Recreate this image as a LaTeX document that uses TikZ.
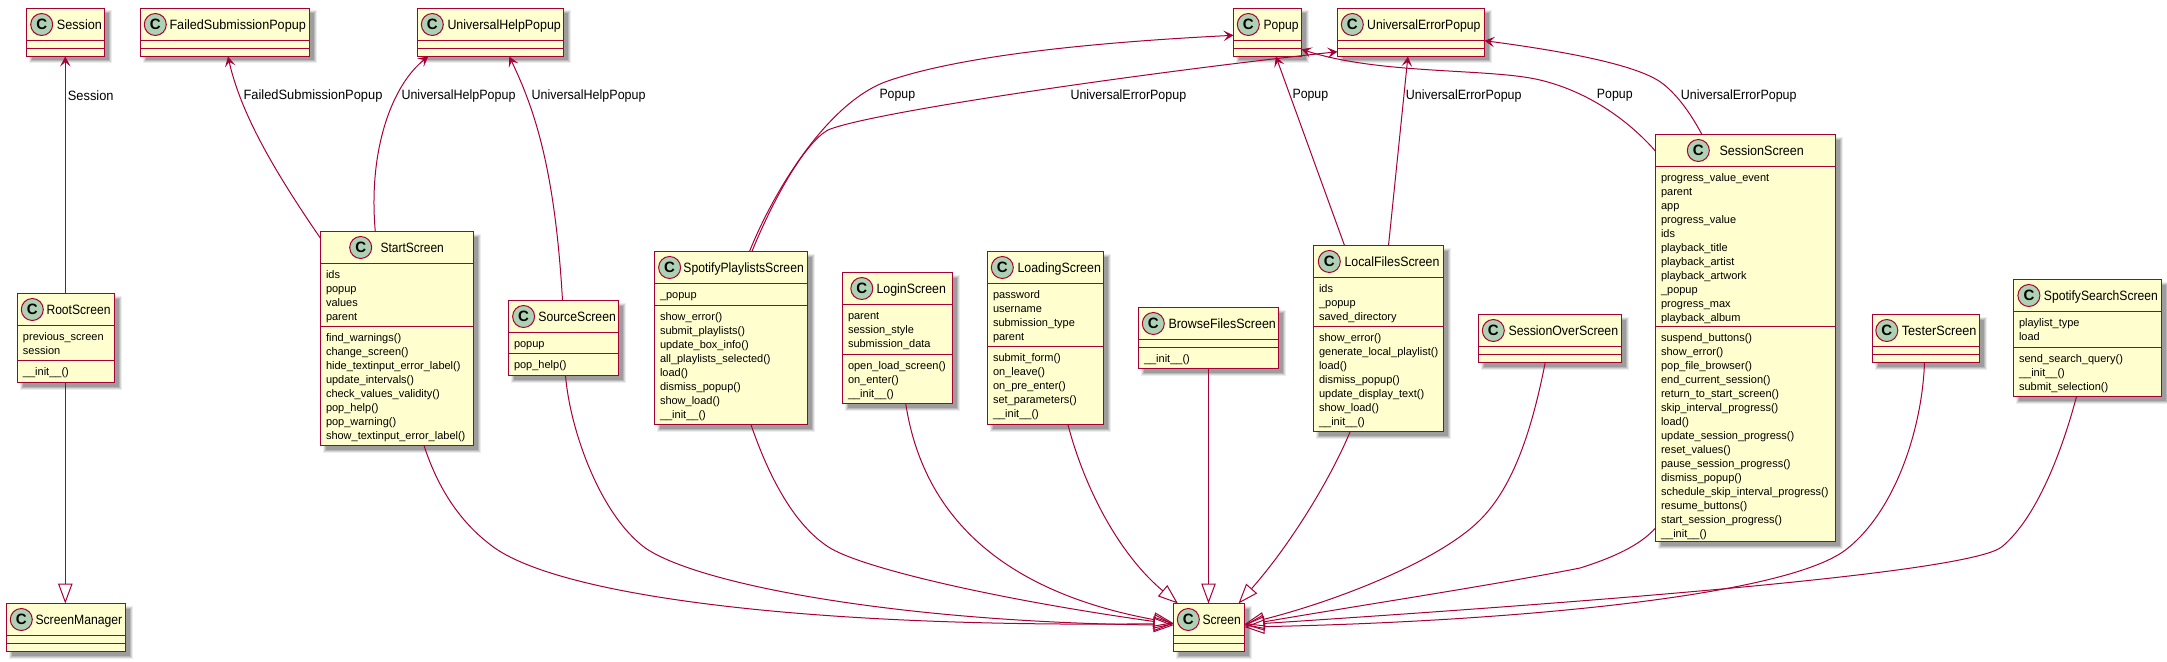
\documentclass[tikz,border=0pt]{standalone}
\usepackage{fontspec}
\usepackage{graphicx}
\setmainfont{Liberation Sans}
\usetikzlibrary{arrows.meta}
\definecolor{umlline}{HTML}{A80036}
\definecolor{umlfill}{HTML}{FEFECE}
\definecolor{umlspot}{HTML}{ADD1B2}
\catcode`\_=12
\tikzset{
  x=1pt,y=-1pt,
  classrect/.style={draw=umlline,fill=umlfill,line width=1.5pt,inner sep=0pt,outer sep=0pt,anchor=north west},
  sepline/.style={draw=umlline,line width=1.5pt},
  spot/.style={circle,draw=umlline,fill=umlspot,line width=1pt,minimum size=22pt,inner sep=0pt,font=\fontsize{15}{15}\selectfont\bfseries},
  classtitle/.style={anchor=base west,inner sep=0pt,font=\fontsize{13.5}{14}\selectfont},
  members/.style={anchor=north west,inner sep=0pt,align=left,font=\fontsize{11}{14}\selectfont},
  linklabel/.style={anchor=west,inner sep=0pt,font=\fontsize{13.5}{14}\selectfont},
  assoc/.style={draw=umlline,line width=1pt,-{Stealth[length=10pt,width=10.5pt,inset=4.5pt]}},
  inherit/.style={draw=umlline,line width=1pt,-{Triangle[open,length=20pt,width=14.5pt]}},
}
\newlength\fitw
\newcommand\fitted[2]{% width in px, text at 13.5
  \settowidth\fitw{\fontsize{13.5}{14}\selectfont #2}%
  \pgfmathsetmacro\fitr{(#1)/\fitw}%
  \scalebox{\fitr}[1]{#2}}
\newcommand\classbox[7]{%
  \def\curN{#1}\def\curXa{#2}\def\curYa{#3}\def\curXb{#4}\def\curYb{#5}\def\curH{#6}\def\curS{#7}%
  \fill[black,opacity=.07] (#2+2,#3+2) rectangle (#4+7,#5+7);
  \fill[black,opacity=.10] (#2+3,#3+3) rectangle (#4+6,#5+6);
  \fill[black,opacity=.13] (#2+4,#3+4) rectangle (#4+5,#5+5);
  \fill[black,opacity=.15] (#2+5,#3+5) rectangle (#4+4,#5+4);
  \node[classrect,minimum width={(#4-#2)*1pt},minimum height={(#5-#3)*1pt}] (#1) at (#2,#3) {};
  \draw[sepline] (#2,#6) -- (#4,#6);
  \draw[sepline] (#2,#7) -- (#4,#7);
}
\newcommand\classtext[6]{%
  \node[spot] (\curN-spot) at (#1,\curYa+16) {C};
  \node[classtitle] (\curN-title) at (#2,\curYa+20.8) {\fitted{#3-#2}{#4}};
  \node[members] (\curN-attrs) at (\curXa+5.3,\curH+5) {\rule{0pt}{10pt}#5};
  \node[members] (\curN-methods) at (\curXa+5.3,\curS+5) {\rule{0pt}{10pt}#6};
}
\newcommand\linklab[4]{\node[linklabel] (#1) at (#2,95.7) {\fitted{#3}{#4}};}
\begin{document}
\begin{tikzpicture}
\useasboundingbox (0,0) rectangle (2167,661);

\classbox{Session}{26.5}{8.5}{104.5}{56.5}{40.5}{48.5}
\classtext{41.7}{56.7}{101.7}{Session}{}{}
\classbox{FailedSubmissionPopup}{140.5}{8.5}{309.5}{56.5}{40.5}{48.5}
\classtext{155.3}{169.3}{305.7}{FailedSubmissionPopup}{}{}
\classbox{UniversalHelpPopup}{417.5}{8.5}{563.5}{56.5}{40.5}{48.5}
\classtext{432.3}{447.3}{560.7}{UniversalHelpPopup}{}{}
\classbox{Popup}{1233.5}{8.5}{1301.5}{56.5}{40.5}{48.5}
\classtext{1248.3}{1263.3}{1298.3}{Popup}{}{}
\classbox{UniversalErrorPopup}{1337.5}{8.5}{1484.5}{56.5}{40.5}{48.5}
\classtext{1352.3}{1367}{1480.3}{UniversalErrorPopup}{}{}

\classbox{RootScreen}{17.5}{293.5}{114.5}{382.5}{325.5}{360.5}
\classtext{32.3}{46.3}{110.3}{RootScreen}{previous_screen\\session}{__init__()}
\classbox{ScreenManager}{6.5}{603.5}{125.5}{651.5}{635.5}{643.5}
\classtext{21.3}{35.3}{122}{ScreenManager}{}{}
\classbox{StartScreen}{320.5}{231.5}{473.5}{445.5}{263.5}{326.5}
\classtext{360.7}{380.3}{443.7}{StartScreen}{ids\\popup\\values\\parent}{find_warnings()\\change_screen()\\hide_textinput_error_label()\\update_intervals()\\check_values_validity()\\pop_help()\\pop_warning()\\show_textinput_error_label()}
\classbox{SourceScreen}{508.5}{300.5}{618.5}{375.5}{332.5}{353.5}
\classtext{523.6}{538.2}{615.7}{SourceScreen}{popup}{pop_help()}
\classbox{SpotifyPlaylistsScreen}{654.5}{251.5}{807.5}{424.5}{283.5}{305.5}
\classtext{669.6}{683.2}{803.6}{SpotifyPlaylistsScreen}{_popup}{show_error()\\submit_playlists()\\update_box_info()\\all_playlists_selected()\\load()\\dismiss_popup()\\show_load()\\__init__()}
\classbox{LoginScreen}{842.5}{272.5}{952.5}{403.5}{304.5}{354.5}
\classtext{861.8}{876.4}{945.7}{LoginScreen}{parent\\session_style\\submission_data}{open_load_screen()\\on_enter()\\__init__()}
\classbox{LoadingScreen}{987.5}{251.5}{1103.5}{424.5}{283.5}{346.5}
\classtext{1002.3}{1017.3}{1100.7}{LoadingScreen}{password\\username\\submission_type\\parent}{submit_form()\\on_leave()\\on_pre_enter()\\set_parameters()\\__init__()}
\classbox{BrowseFilesScreen}{1138.5}{307.5}{1278.5}{368.5}{339.5}{347.5}
\classtext{1153.3}{1168.3}{1275.7}{BrowseFilesScreen}{}{__init__()}
\classbox{LocalFilesScreen}{1313.5}{245.5}{1443.5}{431.5}{277.5}{326.5}
\classtext{1329.3}{1344.3}{1439.3}{LocalFilesScreen}{ids\\_popup\\saved_directory}{show_error()\\generate_local_playlist()\\load()\\dismiss_popup()\\update_display_text()\\show_load()\\__init__()}
\classbox{SessionOverScreen}{1478.5}{314.5}{1621.5}{362.5}{346.5}{354.5}
\classtext{1493.3}{1508.3}{1618}{SessionOverScreen}{}{}
\classbox{SessionScreen}{1655.5}{134.5}{1835.5}{541.5}{166.5}{326.5}
\classtext{1698.3}{1719.3}{1803.7}{SessionScreen}{progress_value_event\\parent\\app\\progress_value\\ids\\playback_title\\playback_artist\\playback_artwork\\_popup\\progress_max\\playback_album}{suspend_buttons()\\show_error()\\pop_file_browser()\\end_current_session()\\return_to_start_screen()\\skip_interval_progress()\\load()\\update_session_progress()\\reset_values()\\pause_session_progress()\\dismiss_popup()\\schedule_skip_interval_progress()\\resume_buttons()\\start_session_progress()\\__init__()}
\classbox{TesterScreen}{1872.5}{314.5}{1979.5}{362.5}{346.5}{354.5}
\classtext{1886.8}{1901.6}{1976.3}{TesterScreen}{}{}
\classbox{SpotifySearchScreen}{2013.5}{279.5}{2161.5}{396.5}{311.5}{347.5}
\classtext{2028.9}{2043.7}{2157.7}{SpotifySearchScreen}{playlist_type\\load}{send_search_query()\\__init__()\\submit_selection()}
\classbox{Screen}{1173.5}{603.5}{1244.5}{651.5}{635.5}{643.5}
\classtext{1188.3}{1202.3}{1240.7}{Screen}{}{}

% associations
\draw[assoc] ([xshift=47.8pt]RootScreen.north west) -- ([xshift=38.8pt]Session.south west);
\draw[assoc] ([yshift=-6.8pt]StartScreen.north west) .. controls (270,165) and (240,110) .. ([xshift=87.5pt]FailedSubmissionPopup.south west);
\draw[assoc] ([xshift=54.8pt]StartScreen.north west) .. controls (368,150) and (392,85) .. ([xshift=10.8pt]UniversalHelpPopup.south west);
\draw[assoc] ([xshift=54pt]SourceScreen.north west) .. controls (555,170) and (535,110) .. ([xshift=91.8pt]UniversalHelpPopup.south west);
\draw[assoc] ([xshift=95pt]SpotifyPlaylistsScreen.north west) .. controls (772,195) and (825,105) .. (885,82) .. controls (960,55) and (1100,42) .. ([yshift=-26.8pt]Popup.north west);
\draw[assoc] ([xshift=97.4pt]SpotifyPlaylistsScreen.north west) .. controls (775,195) and (806,142) .. (828,130) .. controls (870,112) and (1150,72) .. ([yshift=-43.2pt]UniversalErrorPopup.north west);
\draw[assoc] ([xshift=31pt]LocalFilesScreen.north west) -- ([xshift=42.4pt]Popup.south west);
\draw[assoc] ([xshift=75pt]LocalFilesScreen.north west) -- ([xshift=70.4pt]UniversalErrorPopup.south west);
\draw[assoc] ([yshift=-16.7pt]SessionScreen.north west) .. controls (1630,122) and (1590,92) .. (1540,80) .. controls (1490,68) and (1380,75) .. ([yshift=-40.8pt]Popup.north east);
\draw[assoc] ([xshift=46.4pt]SessionScreen.north west) .. controls (1690,112) and (1675,92) .. (1660,81.7) .. controls (1635,65) and (1570,52) .. ([yshift=-32.2pt]UniversalErrorPopup.north east);

% labels
\linklab{lab1}{67.7}{45.7}{Session}
\linklab{lab2}{243.3}{139}{FailedSubmissionPopup}
\linklab{lab3}{401.3}{114}{UniversalHelpPopup}
\linklab{lab4}{531.4}{114}{UniversalHelpPopup}
\linklab{lab5}{879.3}{35.7}{Popup}
\linklab{lab6}{1070.3}{115.7}{UniversalErrorPopup}
\linklab{lab7}{1292.3}{35.7}{Popup}
\linklab{lab8}{1405.7}{115.7}{UniversalErrorPopup}
\linklab{lab9}{1596.7}{35.7}{Popup}
\linklab{lab10}{1680.7}{115.7}{UniversalErrorPopup}

% inheritance
\draw[inherit] ([xshift=47.8pt]RootScreen.south west) -- ([xshift=58.8pt]ScreenManager.north west);
\draw[inherit] ([xshift=103.5pt]StartScreen.south west) .. controls (440,495) and (465,525) .. (488.6,543.3) .. controls (550,595) and (800,628) .. ([yshift=-20pt]Screen.north west);
\draw[inherit] ([xshift=57pt]SourceScreen.south west) .. controls (570,430) and (600,515) .. (645.7,548.3) .. controls (700,585) and (900,622) .. ([yshift=-21.7pt]Screen.north west);
\draw[inherit] ([xshift=96.4pt]SpotifyPlaylistsScreen.south west) .. controls (770,480) and (795,525) .. (828,546.7) .. controls (860,568) and (1000,600) .. ([yshift=-20.7pt]Screen.north west);
\draw[inherit] ([xshift=63.2pt]LoginScreen.south west) .. controls (925,530) and (1020,595) .. ([yshift=-19.7pt]Screen.north west);
\draw[inherit] ([xshift=80.4pt]LoadingScreen.south west) .. controls (1085,490) and (1120,555) .. ([xshift=4.4pt]Screen.north west);
\draw[inherit] ([xshift=70pt]BrowseFilesScreen.south west) -- ([xshift=35pt]Screen.north west);
\draw[inherit] ([xshift=36.7pt]LocalFilesScreen.south west) .. controls (1330,480) and (1290,545) .. ([xshift=-6pt]Screen.north east);
\draw[inherit] ([xshift=66.7pt]SessionOverScreen.south west) .. controls (1530,440) and (1510,490) .. (1480,520) .. controls (1440,560) and (1340,600) .. ([yshift=-20.7pt]Screen.north east);
\draw[inherit] ([yshift=13.4pt]SessionScreen.south west) .. controls (1640,545) and (1615,557) .. (1580,568) .. controls (1500,584) and (1350,607) .. ([yshift=-21.7pt]Screen.north east);
\draw[inherit] ([xshift=52pt]TesterScreen.south west) .. controls (1922,430) and (1895,510) .. (1848,548) .. controls (1790,597) and (1500,622) .. ([yshift=-23.5pt]Screen.north east);
\draw[inherit] ([xshift=63pt]SpotifySearchScreen.south west) .. controls (2065,440) and (2040,515) .. (2002,546.7) .. controls (1975,569) and (1700,595) .. ([yshift=-21.2pt]Screen.north east);
\end{tikzpicture}
\end{document}
